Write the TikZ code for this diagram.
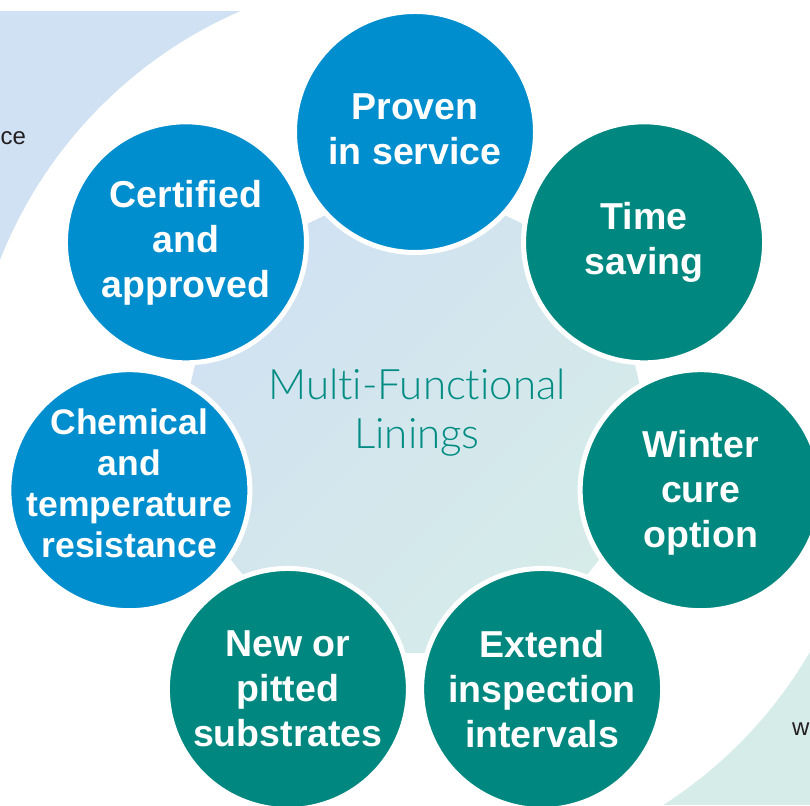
\documentclass[tikz,border=0pt]{standalone}
\usepackage{fontspec}
\setmainfont{Liberation Sans}
\newfontfamily\lightfont{Lato Light}[Ligatures={NoCommon}]
\usetikzlibrary{calc}
\definecolor{bgblue}{RGB}{208,225,243}
\definecolor{bgteal}{RGB}{214,236,232}
\definecolor{cblue}{RGB}{0,142,207}
\definecolor{cteal}{RGB}{0,136,128}
\definecolor{ctext}{RGB}{0,140,130}
\definecolor{dgray}{RGB}{35,31,32}
\tikzset{
  bubble/.style={circle, draw=white, line width=5pt, minimum size=241pt, inner sep=0pt},
  btext/.style={text=white, align=center, inner sep=0pt, font=\bfseries\fontsize{37.5}{45}\selectfont},
  btextsmall/.style={text=white, align=center, inner sep=0pt, font=\bfseries\fontsize{35.5}{41}\selectfont},
  sidetext/.style={text=dgray, inner sep=0pt, font=\fontsize{24}{28}\selectfont},
  centertext/.style={text=ctext, align=center, inner sep=0pt, font=\lightfont\fontsize{42}{49}\selectfont},
}
\begin{document}
\begin{tikzpicture}[x=1pt,y=1pt]
\useasboundingbox (0,0) rectangle (810,805);
\clip (0,0) rectangle (810,805);
% background
\fill[bgblue] (0,380) rectangle (420,794);
\fill[bgteal] (420,0) rectangle (810,380);
\fill[white] (420,380) circle[radius=451pt];
\node[sidetext, anchor=base west] (ce) at (0.5,660) {ce};
\node[sidetext, anchor=base west] (w) at (792,70) {w};
% central heptagon
\coordinate (C) at (415,380);
\shade[top color=bgblue, bottom color=bgteal, shading angle=45]
  ($(C)+(90:253pt)$) \foreach \a in {1,...,6}{ -- ($(C)+(90-\a*51.4286:253pt)$)} -- cycle;
% circles
\node[bubble, fill=cblue] (proven) at ($(C)+(90:293pt)$) {};
\node[bubble, fill=cteal] (time) at ($(C)+(38.571:293pt)$) {};
\node[bubble, fill=cteal] (winter) at ($(C)+(-12.857:293pt)$) {};
\node[bubble, fill=cteal] (extend) at ($(C)+(-64.286:293pt)$) {};
\node[bubble, fill=cteal] (newor) at ($(C)+(-115.714:293pt)$) {};
\node[bubble, fill=cblue] (chem) at ($(C)+(-167.143:293pt)$) {};
\node[bubble, fill=cblue] (cert) at ($(C)+(141.429:293pt)$) {};
% texts
\node[btext] at ($(proven)+(0,3)$) {Proven\\in service};
\node[btext] at (time) {Time\\saving};
\node[btext] at ($(winter)+(0,-3)$) {Winter\\cure\\option};
\node[btext] at (extend) {Extend\\inspection\\intervals};
\node[btext] at (newor) {New or\\pitted\\substrates};
\node[btextsmall] at ($(chem)+(0,7)$) {Chemical\\and\\temperature\\resistance};
\node[btext] at (cert) {Certified\\and\\approved};
\node[centertext] (title) at (417,392) {Multi-Functional\\Linings};
\end{tikzpicture}
\end{document}
